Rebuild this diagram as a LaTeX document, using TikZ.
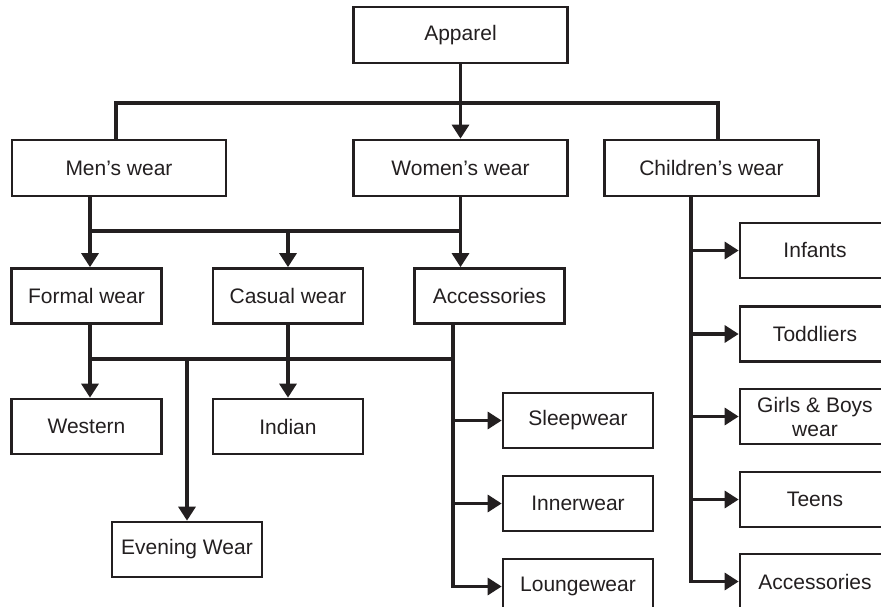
\documentclass[tikz,border=0pt]{standalone}
\usepackage{fontspec}
\setmainfont{Liberation Sans}
\usetikzlibrary{arrows.meta}
\definecolor{ink}{HTML}{231F20}
\begin{document}
\begin{tikzpicture}[x=1pt,y=-1pt,
  box/.style={draw=ink, line width=2.7pt, minimum width=150pt, minimum height=55pt,
    inner sep=0pt, align=center, text=ink, font=\fontsize{21}{24}\selectfont},
  wide/.style={box, minimum width=214pt, minimum height=56pt},
  conn/.style={draw=ink, line width=3.2pt},
  arr/.style={conn, -{Triangle[length=14pt,width=17pt]}}]
\useasboundingbox (0,0) rectangle (881,607);
\clip (0,0) rectangle (881,607);
\fill[white] (0,0) rectangle (881,607);
% level 0/1
\node[wide] (app) at (460.5,35) {Apparel};
\node[wide] (men) at (119,168) {Men’s wear};
\node[wide] (wom) at (460.5,168) {Women’s wear};
\node[wide] (chi) at (711.5,168) {Children’s wear};
% level 2
\node[box] (formal) at (86.5,296) {Formal wear};
\node[box] (casual) at (288,296) {Casual wear};
\node[box] (acc) at (489.5,296) {Accessories};
% level 3
\node[box] (western) at (86.5,426.5) {Western};
\node[box] (indian) at (288,426.5) {Indian};
\node[box] (evening) at (187,549.5) {Evening Wear};
\node[box] (sleep) at (578,420.5) {Sleepwear};
\node[box] (inner) at (578,503.5) {Innerwear};
\node[box] (lounge) at (578,586.5) {Loungewear};
% children
\node[box] (infants) at (815,250.5) {Infants};
\node[box] (todd) at (815,334) {Toddliers};
\node[box] (girls) at (815,416.5) {Girls \& Boys\\wear};
\node[box] (teens) at (815,499.5) {Teens};
\node[box] (cacc) at (815,581.5) {Accessories};
% junction coordinates
\coordinate (t1) at (116,103);
\coordinate (t2) at (718,103);
\coordinate (j1) at (90,231);
\coordinate (k1) at (90,359);
\coordinate (k2) at (453,359);
\coordinate (c1) at (691,0);
% top level
\draw[conn] (men.north -| t1) -- (t1) -- (t2) -- (chi.north -| t2);
\draw[arr] (app.south) -- (wom.north);
% second level
\draw[conn] (men.south -| j1) -- (j1) -- (wom.south |- j1);
\draw[arr] (wom.south) -- (wom.south |- acc.north);
\draw[arr] (j1) -- (formal.north -| j1);
\draw[arr] (casual.north |- j1) -- (casual.north);
% third level
\draw[conn] (k1) -- (k2);
\draw[arr] (formal.south -| k1) -- (western.north -| k1);
\draw[arr] (casual.south) -- (indian.north);
\draw[arr] (evening.north |- k1) -- (evening.north);
\draw[arr] (acc.south -| k2) -- (lounge.west -| k2) -- (lounge.west);
\draw[arr] (sleep.west -| k2) -- (sleep.west);
\draw[arr] (inner.west -| k2) -- (inner.west);
% children
\draw[arr] (chi.south -| c1) -- (cacc.west -| c1) -- (cacc.west);
\draw[arr] (infants.west -| c1) -- (infants.west);
\draw[arr] (todd.west -| c1) -- (todd.west);
\draw[arr] (girls.west -| c1) -- (girls.west);
\draw[arr] (teens.west -| c1) -- (teens.west);
\end{tikzpicture}
\end{document}
